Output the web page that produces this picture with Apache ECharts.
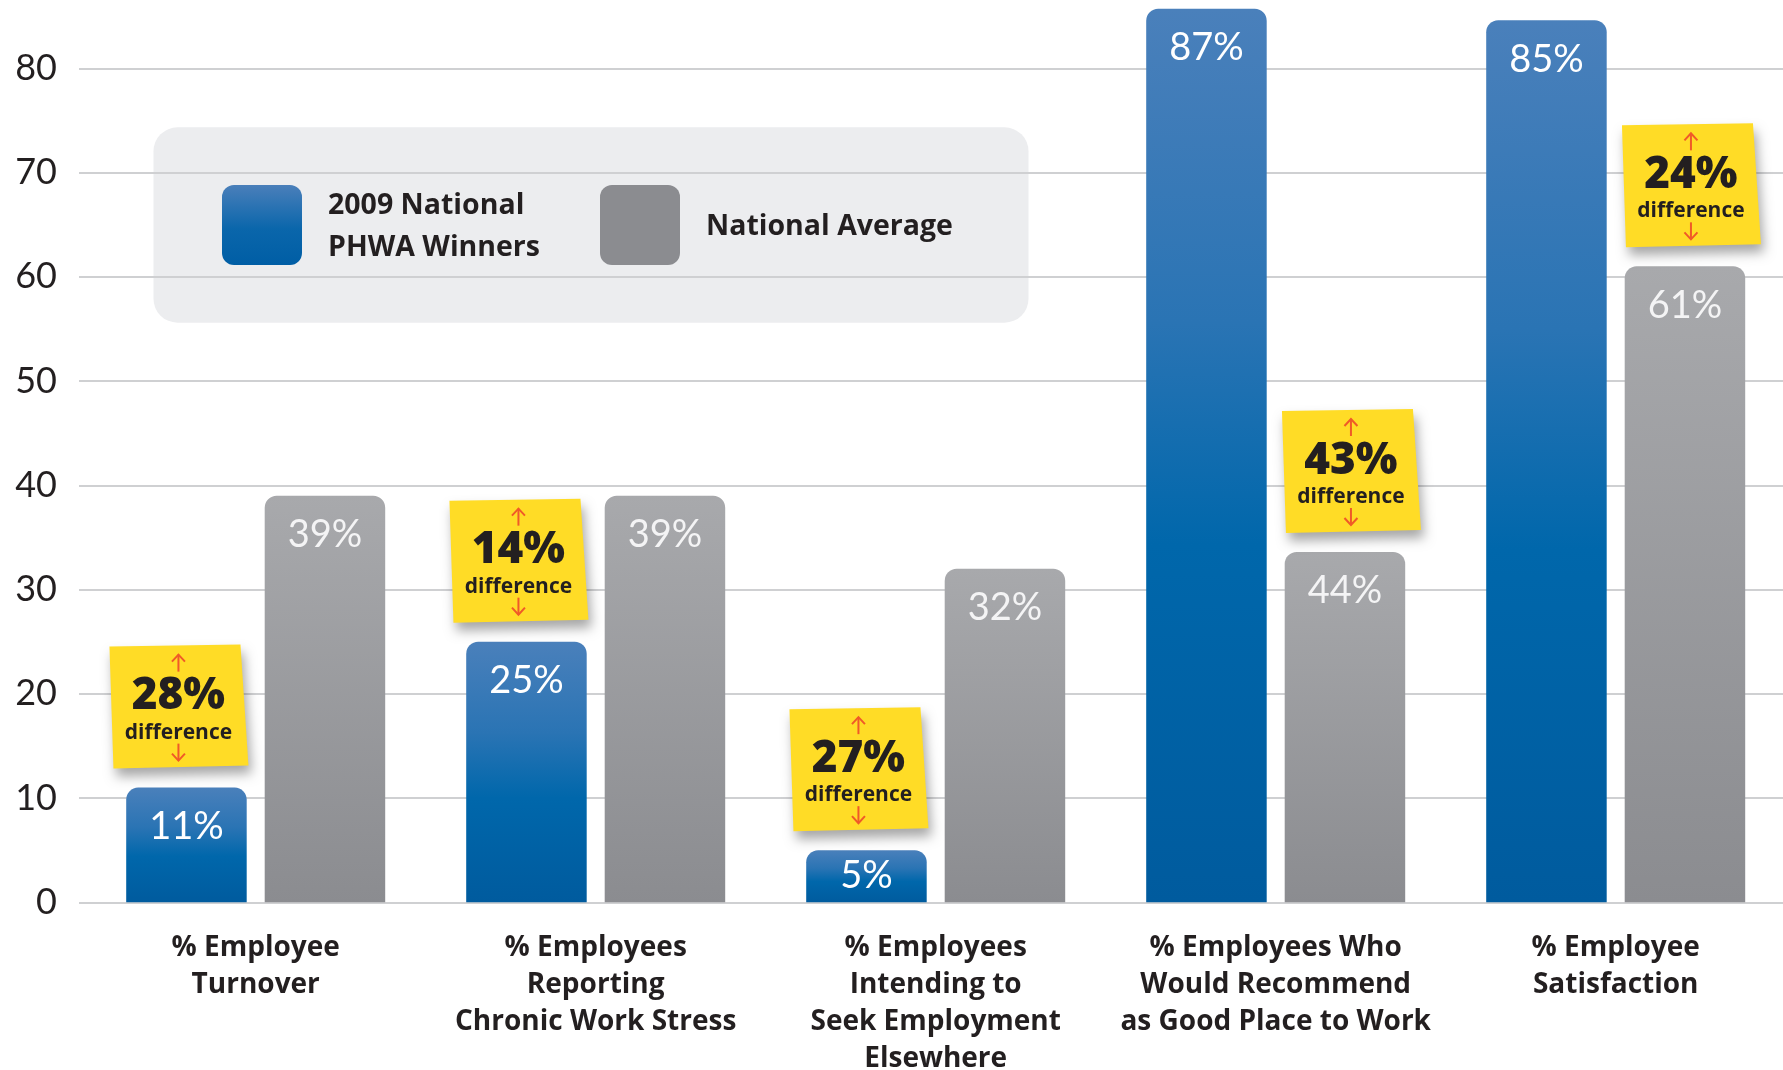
<!DOCTYPE html>
<html>
<head>
<meta charset="utf-8">
<script src="https://cdn.jsdelivr.net/npm/echarts@6/dist/echarts.min.js"></script>
<style>
html,body{margin:0;padding:0;background:#fff;}
#chart{width:1783px;height:1070px;}
</style>
</head>
<body>
<div id="chart"></div>
<script>
// ---- data ----
const categories = [
  '% Employee\nTurnover',
  '% Employees\nReporting\nChronic Work Stress',
  '% Employees\nIntending to\nSeek Employment\nElsewhere',
  '% Employees Who\nWould Recommend\nas Good Place to Work',
  '% Employee\nSatisfaction'
];
// bar heights as drawn in the picture
const winnersValues = [11, 25, 5, 85.7, 84.6];
const averageValues = [39, 39, 32, 33.6, 61];
// printed labels
const winnersLabels = ['11%', '25%', '5%', '87%', '85%'];
const averageLabels = ['39%', '39%', '32%', '44%', '61%'];
// "difference" sticky notes
const differences = [28, 14, 27, 43, 24];
const seriesNames = ['2009 National\nPHWA Winners', 'National Average'];
const yTicks = [0, 10, 20, 30, 40, 50, 60, 70, 80];

// ---- chart ----
const chart = echarts.init(document.getElementById('chart'));
const FONT = 'Lato, "Open Sans", sans-serif';
const BOLD_FONT = '"Open Sans", Lato, sans-serif';
const TXT = '#231f20';
const BAR_W = 120.5;
const GAP = 18;

const blueGrad = new echarts.graphic.LinearGradient(0, 0, 0, 1, [
  {offset: 0, color: '#4a80bb'},
  {offset: 0.35, color: '#2a74b4'},
  {offset: 0.6, color: '#0067ab'},
  {offset: 1, color: '#005b9e'}
]);
const grayGrad = new echarts.graphic.LinearGradient(0, 0, 0, 1, [
  {offset: 0, color: '#a8a9ac'},
  {offset: 1, color: '#8b8c90'}
]);

// short bars get their label centred inside the bar
function barItems(values) {
  return values.map(v => v < 8 ? {value: v, label: {position: 'inside'}} : v);
}

// note data: anchored at the shorter bar of each group
const noteData = differences.map((d, i) => {
  const side = winnersValues[i] <= averageValues[i] ? 0 : 1;
  const v = side === 0 ? winnersValues[i] : averageValues[i];
  return [i, v, side, d];
});

function renderNote(params, api) {
  const i = api.value(0), v = api.value(1), side = api.value(2), d = api.value(3);
  const p = api.coord([i, v]);
  const half = (BAR_W + GAP) / 2;
  const cx = p[0] + (side === 0 ? -half - 8 : half + 6);
  const cy = p[1] - 20 - 61;
  const ac = '#f05a28';
  const aw = 2;
  return {
    type: 'group',
    children: [
      {
        type: 'polygon',
        shape: {points: [[cx - 69, cy - 60], [cx + 62, cy - 62], [cx + 70, cy + 59], [cx - 65, cy + 62]]},
        style: {fill: '#ffdc26', shadowBlur: 12, shadowColor: 'rgba(0,0,0,0.35)', shadowOffsetX: 3, shadowOffsetY: 8}
      },
      {
        type: 'text',
        style: {text: d + '%', x: cx, y: cy - 10, align: 'center', verticalAlign: 'middle',
          fontFamily: BOLD_FONT, fontWeight: 800, fontSize: 44, fill: TXT}
      },
      {
        type: 'text',
        style: {text: 'difference', x: cx, y: cy + 26, align: 'center', verticalAlign: 'middle',
          fontFamily: BOLD_FONT, fontWeight: 'bold', fontSize: 21, fill: TXT}
      },
      {type: 'line', shape: {x1: cx, y1: cy - 35, x2: cx, y2: cy - 52}, style: {stroke: ac, lineWidth: aw}},
      {type: 'polyline', shape: {points: [[cx - 6.5, cy - 45], [cx, cy - 52], [cx + 6.5, cy - 45]]}, style: {stroke: ac, lineWidth: aw, fill: null}},
      {type: 'line', shape: {x1: cx, y1: cy + 37, x2: cx, y2: cy + 54}, style: {stroke: ac, lineWidth: aw}},
      {type: 'polyline', shape: {points: [[cx - 6.5, cy + 47], [cx, cy + 54], [cx + 6.5, cy + 47]]}, style: {stroke: ac, lineWidth: aw, fill: null}}
    ]
  };
}

const option = {
  backgroundColor: '#ffffff',
  animation: false,
  grid: [
    {left: 79, right: 0, top: -36, bottom: 167.7, outerBoundsMode: 'none', containLabel: false},
    {left: 85.7, width: 1700, top: -36, bottom: 167.7, outerBoundsMode: 'none', containLabel: false}
  ],
  xAxis: [
    {gridIndex: 0, type: 'value', show: false},
    {
      gridIndex: 1, type: 'category', data: categories,
      axisLine: {show: false}, axisTick: {show: false},
      axisLabel: {interval: 0, margin: 27, fontFamily: BOLD_FONT, fontWeight: 'bold', fontSize: 28,
        lineHeight: 37, color: TXT, align: 'center'}
    }
  ],
  yAxis: [
    {
      gridIndex: 0, type: 'value', min: 0, max: 90, interval: 10,
      axisLine: {show: false}, axisTick: {show: false},
      axisLabel: {margin: 22, fontFamily: FONT, fontSize: 36, color: TXT,
        formatter: v => (yTicks.indexOf(v) >= 0 ? String(v) : '')},
      splitLine: {lineStyle: {color: '#cfd0d2', width: 2}}
    },
    {gridIndex: 1, type: 'value', min: 0, max: 90, interval: 10, show: false, splitLine: {show: false}}
  ],
  series: [
    {
      name: seriesNames[0], type: 'bar', xAxisIndex: 1, yAxisIndex: 1,
      data: barItems(winnersValues), barWidth: BAR_W, barGap: (GAP / BAR_W * 100) + '%',
      itemStyle: {color: blueGrad, borderRadius: [12, 12, 0, 0]},
      label: {show: true, position: 'insideTop', distance: 20, fontFamily: FONT, fontSize: 38,
        color: '#ffffff', formatter: p => winnersLabels[p.dataIndex]}
    },
    {
      name: seriesNames[1], type: 'bar', xAxisIndex: 1, yAxisIndex: 1,
      data: barItems(averageValues), barWidth: BAR_W,
      itemStyle: {color: grayGrad, borderRadius: [12, 12, 0, 0]},
      label: {show: true, position: 'insideTop', distance: 20, fontFamily: FONT, fontSize: 38,
        color: '#f4f4f5', formatter: p => averageLabels[p.dataIndex]}
    },
    {
      type: 'custom', xAxisIndex: 1, yAxisIndex: 1, z: 10,
      data: noteData, encode: {x: 0, y: 1},
      renderItem: renderNote
    }
  ],
  graphic: [
    {type: 'rect', z: -10, shape: {x: 153.5, y: 127.3, width: 875, height: 195.4, r: 24}, style: {fill: '#ecedef'}},
    {type: 'rect', z: 5, shape: {x: 222, y: 185, width: 80, height: 80, r: 12},
      style: {fill: new echarts.graphic.LinearGradient(0, 0, 0, 1, [
        {offset: 0, color: '#4a7fba'}, {offset: 0.55, color: '#0a66ab'}, {offset: 1, color: '#005ea5'}])}},
    {type: 'text', z: 5, style: {text: seriesNames[0], x: 328, y: 227, verticalAlign: 'middle',
      fontFamily: BOLD_FONT, fontWeight: 'bold', fontSize: 28.5, lineHeight: 42, fill: TXT}},
    {type: 'rect', z: 5, shape: {x: 600, y: 185, width: 80, height: 80, r: 12}, style: {fill: '#8b8c90'}},
    {type: 'text', z: 5, style: {text: seriesNames[1], x: 706, y: 227, verticalAlign: 'middle',
      fontFamily: BOLD_FONT, fontWeight: 'bold', fontSize: 28.5, fill: TXT}}
  ]
};
chart.setOption(option);
</script>
</body>
</html>
